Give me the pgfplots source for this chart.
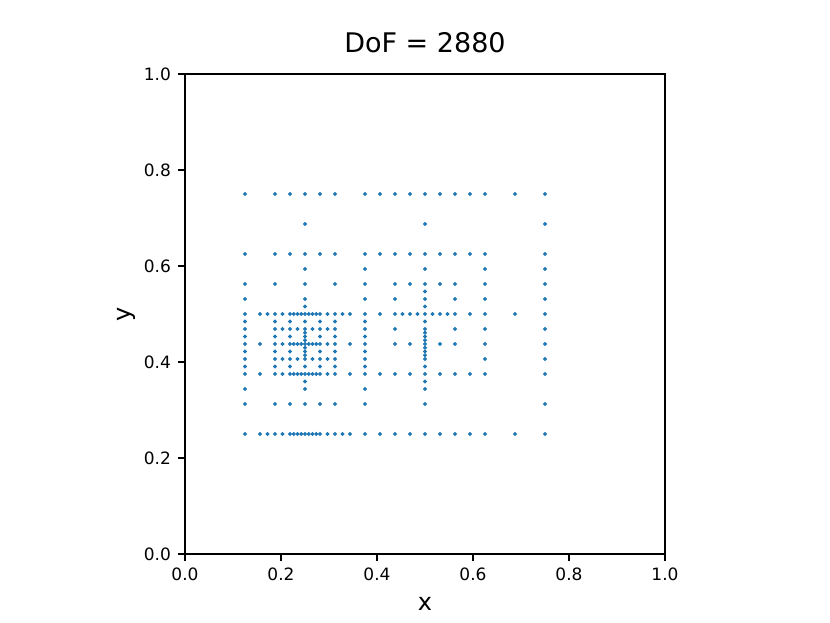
\documentclass[border=0pt]{standalone}
\usepackage{fontspec}
\setmainfont{DejaVu Sans}
\usepackage{pgfplots}
\pgfplotsset{compat=1.18}
\definecolor{mplblue}{HTML}{1F77B4}

\begin{document}
\begin{tikzpicture}
\useasboundingbox (-92.5bp,-34.5bp) rectangle (322.5bp,277bp);
\begin{axis}[
    at={(0,0)}, anchor=south west,
    scale only axis,
    width=240bp, height=240bp,
    xmin=0, xmax=1, ymin=0, ymax=1,
    xtick={0,0.2,0.4,0.6,0.8,1},
    ytick={0,0.2,0.4,0.6,0.8,1},
    xtick pos=bottom, ytick pos=left,
    tick align=outside,
    major tick length=3.5bp,
    every tick/.style={black, line width=0.7bp},
    axis line style={line width=0.7bp},
    ticklabel style={font=\fontsize{8.5bp}{10bp}\selectfont},
    /pgf/number format/fixed,
    /pgf/number format/fixed zerofill,
    /pgf/number format/precision=1,
    /pgf/number format/assume math mode=true,
    title={DoF = 2880},
    title style={font=\fontsize{13.5bp}{16bp}\selectfont, at={(axis description cs:0.5,1.041)}, anchor=center},
    xlabel={x},
    xlabel style={font=\fontsize{12bp}{14bp}\selectfont, at={(axis description cs:0.5,-0.104)}, anchor=center},
    ylabel={y},
    ylabel style={font=\fontsize{12bp}{14bp}\selectfont, at={(axis description cs:-0.121,0.5)}, anchor=center},
]
% rows of nodes, each y level listed separately
\addplot[only marks, mark=*, mark size=0.75bp, color=mplblue, mark options={draw=none, fill=mplblue}] coordinates {
% y = 0.75
(0.125,0.75) (0.1875,0.75) (0.21875,0.75) (0.25,0.75) (0.28125,0.75) (0.3125,0.75)
(0.375,0.75) (0.40625,0.75) (0.4375,0.75) (0.46875,0.75) (0.5,0.75) (0.53125,0.75)
(0.5625,0.75) (0.59375,0.75) (0.625,0.75) (0.6875,0.75) (0.75,0.75)
% y = 0.6875
(0.25,0.6875) (0.5,0.6875) (0.75,0.6875)
% y = 0.625
(0.125,0.625) (0.1875,0.625) (0.21875,0.625) (0.25,0.625) (0.28125,0.625) (0.3125,0.625)
(0.375,0.625) (0.40625,0.625) (0.4375,0.625) (0.46875,0.625) (0.5,0.625) (0.53125,0.625)
(0.5625,0.625) (0.59375,0.625) (0.625,0.625) (0.75,0.625)
% y = 0.59375
(0.25,0.59375) (0.375,0.59375) (0.5,0.59375) (0.625,0.59375) (0.75,0.59375)
% y = 0.5625
(0.125,0.5625) (0.1875,0.5625) (0.25,0.5625) (0.3125,0.5625) (0.375,0.5625) (0.4375,0.5625)
(0.46875,0.5625) (0.5,0.5625) (0.53125,0.5625) (0.5625,0.5625) (0.625,0.5625) (0.75,0.5625)
% y = 0.546875
(0.5,0.546875)
% y = 0.53125
(0.125,0.53125) (0.25,0.53125) (0.375,0.53125) (0.4375,0.53125) (0.5,0.53125)
(0.5625,0.53125) (0.625,0.53125) (0.75,0.53125)
% y = 0.515625
(0.25,0.515625) (0.5,0.515625)
% y = 0.5
(0.125,0.5) (0.15625,0.5) (0.171875,0.5) (0.1875,0.5) (0.203125,0.5) (0.21875,0.5)
(0.2265625,0.5) (0.234375,0.5) (0.2421875,0.5) (0.25,0.5) (0.2578125,0.5) (0.265625,0.5)
(0.2734375,0.5) (0.28125,0.5) (0.296875,0.5) (0.3125,0.5) (0.328125,0.5) (0.34375,0.5)
(0.375,0.5) (0.40625,0.5) (0.4375,0.5) (0.453125,0.5) (0.46875,0.5) (0.484375,0.5)
(0.5,0.5) (0.515625,0.5) (0.53125,0.5) (0.546875,0.5) (0.5625,0.5) (0.59375,0.5)
(0.625,0.5) (0.6875,0.5) (0.75,0.5)
% y = 0.484375
(0.125,0.484375) (0.1875,0.484375) (0.21875,0.484375) (0.25,0.484375) (0.28125,0.484375)
(0.3125,0.484375) (0.375,0.484375) (0.5,0.484375)
% y = 0.46875
(0.125,0.46875) (0.1875,0.46875) (0.203125,0.46875) (0.21875,0.46875) (0.234375,0.46875)
(0.25,0.46875) (0.265625,0.46875) (0.28125,0.46875) (0.296875,0.46875) (0.3125,0.46875)
(0.375,0.46875) (0.4375,0.46875) (0.5,0.46875) (0.5625,0.46875) (0.625,0.46875) (0.75,0.46875)
% y = 0.4609375
(0.25,0.4609375) (0.5,0.4609375)
% y = 0.453125
(0.125,0.453125) (0.1875,0.453125) (0.21875,0.453125) (0.25,0.453125) (0.28125,0.453125)
(0.3125,0.453125) (0.375,0.453125) (0.5,0.453125)
% y = 0.4453125
(0.25,0.4453125) (0.5,0.4453125)
% y = 0.4375
(0.125,0.4375) (0.15625,0.4375) (0.1875,0.4375) (0.203125,0.4375) (0.21875,0.4375)
(0.2265625,0.4375) (0.234375,0.4375) (0.2421875,0.4375) (0.25,0.4375) (0.2578125,0.4375)
(0.265625,0.4375) (0.2734375,0.4375) (0.28125,0.4375) (0.296875,0.4375) (0.3125,0.4375)
(0.34375,0.4375) (0.375,0.4375) (0.4375,0.4375) (0.46875,0.4375) (0.5,0.4375)
(0.53125,0.4375) (0.5625,0.4375) (0.625,0.4375) (0.75,0.4375)
% y = 0.4296875
(0.25,0.4296875) (0.5,0.4296875)
% y = 0.421875
(0.125,0.421875) (0.1875,0.421875) (0.21875,0.421875) (0.25,0.421875) (0.28125,0.421875)
(0.3125,0.421875) (0.375,0.421875) (0.5,0.421875)
% y = 0.4140625
(0.25,0.4140625) (0.5,0.4140625)
% y = 0.40625
(0.125,0.40625) (0.1875,0.40625) (0.203125,0.40625) (0.21875,0.40625) (0.234375,0.40625)
(0.25,0.40625) (0.265625,0.40625) (0.28125,0.40625) (0.296875,0.40625) (0.3125,0.40625)
(0.375,0.40625) (0.5,0.40625) (0.625,0.40625) (0.75,0.40625)
% y = 0.390625
(0.125,0.390625) (0.1875,0.390625) (0.21875,0.390625) (0.25,0.390625) (0.28125,0.390625)
(0.3125,0.390625) (0.375,0.390625) (0.5,0.390625)
% y = 0.375
(0.125,0.375) (0.15625,0.375) (0.1875,0.375) (0.203125,0.375) (0.21875,0.375)
(0.2265625,0.375) (0.234375,0.375) (0.2421875,0.375) (0.25,0.375) (0.2578125,0.375)
(0.265625,0.375) (0.2734375,0.375) (0.28125,0.375) (0.296875,0.375) (0.3125,0.375)
(0.34375,0.375) (0.375,0.375) (0.40625,0.375) (0.4375,0.375) (0.46875,0.375)
(0.5,0.375) (0.53125,0.375) (0.5625,0.375) (0.59375,0.375) (0.625,0.375) (0.75,0.375)
% y = 0.359375
(0.25,0.359375) (0.5,0.359375)
% y = 0.34375
(0.125,0.34375) (0.25,0.34375) (0.375,0.34375) (0.5,0.34375)
% y = 0.3125
(0.125,0.3125) (0.1875,0.3125) (0.21875,0.3125) (0.25,0.3125) (0.28125,0.3125)
(0.3125,0.3125) (0.375,0.3125) (0.5,0.3125) (0.75,0.3125)
% y = 0.25
(0.125,0.25) (0.15625,0.25) (0.171875,0.25) (0.1875,0.25) (0.203125,0.25) (0.21875,0.25)
(0.2265625,0.25) (0.234375,0.25) (0.2421875,0.25) (0.25,0.25) (0.2578125,0.25) (0.265625,0.25)
(0.2734375,0.25) (0.28125,0.25) (0.296875,0.25) (0.3125,0.25) (0.328125,0.25) (0.34375,0.25)
(0.375,0.25) (0.40625,0.25) (0.4375,0.25) (0.46875,0.25) (0.5,0.25) (0.53125,0.25)
(0.5625,0.25) (0.59375,0.25) (0.625,0.25) (0.6875,0.25) (0.75,0.25)
};
\end{axis}
\end{tikzpicture}
\end{document}
